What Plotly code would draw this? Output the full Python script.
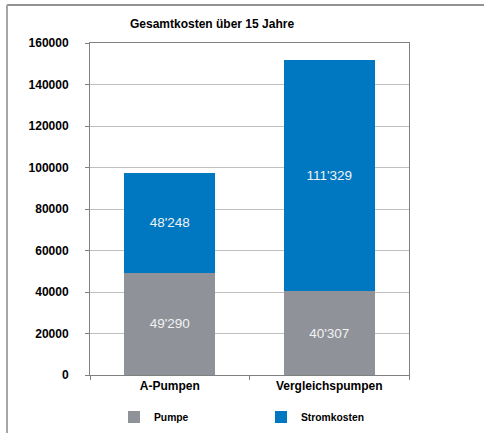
import plotly.graph_objects as go

categories = ["A-Pumpen", "Vergleichspumpen"]
pumpe = [49290, 40307]
strom = [48248, 111329]
series_names = ["Pumpe", "Stromkosten"]
y_ticks = [0, 20000, 40000, 60000, 80000, 100000, 120000, 140000, 160000]
title_text = "Gesamtkosten über 15 Jahre"

def fmt(v):
    return f"{v:,}".replace(",", "'")

GREY = "#8F9299"
BLUE = "#0078C1"
FONT = "Liberation Sans, Arial, sans-serif"

fig = go.Figure()
for name, vals, col in [(series_names[0], pumpe, GREY), (series_names[1], strom, BLUE)]:
    fig.add_trace(go.Bar(
        x=categories, y=vals, name=name, marker=dict(color=col, line=dict(width=0)),
        text=[fmt(v) for v in vals], textposition="inside", insidetextanchor="middle",
        textangle=0,
        textfont=dict(color="#F2F2F2", size=13.5, family=FONT),
        cliponaxis=False,
    ))

L, R, T, B = 90, 75, 43, 58
W, H = 484, 433
pw, ph = W - L - R, H - T - B

def px_x(p):
    return (p - L) / pw

def px_y(p):
    return (H - B - p) / ph

fig.update_layout(
    width=W, height=H,
    margin=dict(l=L, r=R, t=T, b=B, pad=0, autoexpand=False),
    barmode="stack", bargap=0.43,
    paper_bgcolor="white", plot_bgcolor="white",
    font=dict(family=FONT, color="black"),
    uniformtext=dict(minsize=8, mode="show"),
    showlegend=True,
    legend=dict(orientation="h", traceorder="normal", x=px_x(114), xanchor="left", y=px_y(417), yanchor="middle",
                font=dict(size=10.3, family=FONT, color="black", weight="bold"),
                entrywidth=102, entrywidthmode="pixels",
                bgcolor="rgba(0,0,0,0)", borderwidth=0, itemclick=False),
    annotations=[dict(text="<b>" + title_text + "</b>", xref="paper", yref="paper",
                      x=px_x(212), y=px_y(24), xanchor="center", yanchor="middle",
                      showarrow=False, font=dict(size=12, family=FONT, color="black"))],
    shapes=[
        dict(type="line", xref="paper", yref="paper", x0=px_x(7), x1=px_x(484), y0=px_y(5), y1=px_y(5),
             line=dict(color="#929292", width=2)),
        dict(type="line", xref="paper", yref="paper", x0=px_x(7), x1=px_x(7), y0=px_y(5), y1=px_y(433),
             line=dict(color="#A6A6A6", width=2)),
    ],
)

fig.update_xaxes(
    showline=True, linecolor="#808080", linewidth=1, mirror=True,
    ticks="outside", ticklen=4, tickcolor="#808080", tickson="boundaries",
    tickfont=dict(size=12, family=FONT, color="black", weight="bold"),
    showgrid=False,
)
fig.update_yaxes(
    range=[0, 160000], tickvals=y_ticks, ticktext=[str(v) for v in y_ticks],
    showline=True, linecolor="#808080", linewidth=1, mirror=True,
    ticks="outside", ticklen=4, tickcolor="#808080",
    showgrid=True, gridcolor="#C0C0C0", gridwidth=1,
    zeroline=False,
    ticklabelstandoff=14,
    tickfont=dict(size=12, family=FONT, color="black", weight="bold"),
)

fig.write_html("out.html", config={"displayModeBar": False},
               post_script="document.body.style.margin='0';")
